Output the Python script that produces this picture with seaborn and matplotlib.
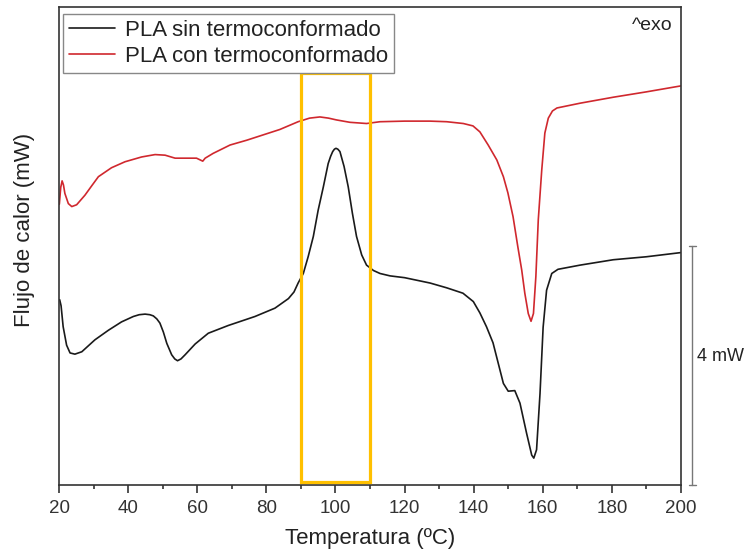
import numpy as np
import pandas as pd
import matplotlib
matplotlib.use("Agg")
import matplotlib.pyplot as plt
from matplotlib.patches import Rectangle
import seaborn as sns

# DSC traces (temperature in ºC, heat flow in mW, offset per sample)
temp_sin = [20.2, 20.6, 21.2, 22.2, 23.2, 24.6, 26.6, 28.5, 30.4, 34.3, 38.1, 41.5,
            43.2, 44.9, 46.3, 47.3, 48.3, 49.2, 50.2, 51.2, 52.6, 53.5, 54.3, 55.3,
            56.5, 59.4, 63.2, 69.0, 76.7, 82.5, 86.4, 88.0, 89.2, 90.7, 92.1, 93.6,
            95.0, 96.5, 97.9, 98.6, 99.2, 99.7, 100.15, 100.7, 101.3, 102.5, 103.7,
            104.9, 106.1, 107.6, 109.0, 111.0, 112.9, 115.8, 120.0, 127.4, 132.2,
            136.9, 139.9, 141.8, 143.7, 145.6, 147.1, 148.6, 150.0, 151.9, 153.4,
            155.3, 156.8, 157.4, 158.2, 159.2, 160.1, 161.1, 162.6, 164.4, 170.8,
            180.4, 190.0, 200.0]
flujo_sin = [3.10, 3.00, 2.65, 2.34, 2.21, 2.19, 2.23, 2.33, 2.43, 2.59, 2.73, 2.82,
             2.85, 2.86, 2.85, 2.83, 2.78, 2.71, 2.56, 2.37, 2.18, 2.11, 2.08, 2.11,
             2.18, 2.36, 2.54, 2.67, 2.82, 2.96, 3.12, 3.23, 3.38, 3.54, 3.82, 4.16,
             4.60, 4.99, 5.38, 5.50, 5.58, 5.62, 5.635, 5.62, 5.58, 5.33, 4.99,
             4.55, 4.16, 3.85, 3.68, 3.59, 3.54, 3.50, 3.47, 3.38, 3.30,
             3.21, 3.07, 2.88, 2.65, 2.38, 2.04, 1.70, 1.57, 1.58, 1.37,
             0.87, 0.50, 0.45, 0.59, 1.53, 2.64, 3.26, 3.54, 3.61, 3.68,
             3.77, 3.82, 3.89]

temp_con = [20.1, 20.5, 20.9, 21.3, 21.7, 22.7, 23.7, 25.1, 27.5, 29.5, 31.4, 35.2,
            39.1, 43.9, 47.8, 50.7, 53.6, 55.0, 59.8, 61.6, 62.3, 64.6, 69.5, 74.3,
            79.1, 83.9, 89.2, 92.5, 95.5, 98.0, 100.3, 104.2, 109.0, 112.9, 120.0,
            127.4, 132.2, 137.0, 139.8, 141.8, 144.2, 146.7, 148.6, 149.9, 151.4,
            152.8, 153.9, 154.8, 155.8, 156.6, 157.3, 158.0, 158.7, 159.7, 160.6,
            161.6, 162.8, 164.1, 170.8, 180.4, 190.0, 200.0]
flujo_con = [4.70, 4.98, 5.09, 5.02, 4.88, 4.71, 4.66, 4.69, 4.85, 5.01, 5.16, 5.31,
             5.41, 5.49, 5.53, 5.52, 5.47, 5.47, 5.47, 5.42, 5.47, 5.55, 5.69, 5.77,
             5.86, 5.95, 6.08, 6.14, 6.16, 6.14, 6.11, 6.07, 6.05, 6.08, 6.09,
             6.09, 6.08, 6.05, 6.01, 5.91, 5.69, 5.44, 5.16, 4.89, 4.49,
             3.98, 3.60, 3.21, 2.87, 2.74, 2.87, 3.49, 4.44, 5.27, 5.89,
             6.14, 6.26, 6.31, 6.39, 6.49, 6.58, 6.68]

series_names = ["PLA sin termoconformado", "PLA con termoconformado"]
series_colors = ["#1a1a1a", "#d0282e"]
x_ticks = [20, 40, 60, 80, 100, 120, 140, 160, 180, 200]
highlight_range = (90, 110)
scale_bar_mw = 4

df = pd.concat([
    pd.DataFrame({"T": temp_sin, "Q": flujo_sin, "muestra": series_names[0]}),
    pd.DataFrame({"T": temp_con, "Q": flujo_con, "muestra": series_names[1]}),
], ignore_index=True)

sns.set_theme(style="ticks")
plt.rcParams["font.family"] = ["Liberation Sans", "DejaVu Sans"]

fig = plt.figure(figsize=(7.5, 5.58), dpi=100)
ax = fig.add_axes([59 / 750, 73 / 558, 622 / 750, 478 / 558])

sns.lineplot(data=df, x="T", y="Q", hue="muestra", palette=series_colors,
             hue_order=series_names, sort=False, estimator=None,
             linewidth=1.2, ax=ax, legend=False)
for line in ax.get_lines():
    line.set_solid_joinstyle("round")

ax.set_xlim(20, 200)
ax.set_ylim(0, 8)
ax.set_xticks(x_ticks)
ax.set_xticks(np.arange(30, 200, 20), minor=True)
ax.set_yticks([])
ax.tick_params(axis="x", which="major", direction="out", length=6, width=1.2,
               color="#333333", labelsize=13.5, labelcolor="#333333", pad=5)
ax.tick_params(axis="x", which="minor", direction="out", length=3, width=1.2,
               color="#333333")
for side in ["left", "right", "top", "bottom"]:
    ax.spines[side].set_visible(True)
    ax.spines[side].set_color("#333333")
    ax.spines[side].set_linewidth(1.2)

ax.set_xlabel("Temperatura (ºC)", fontsize=16, color="#222222", labelpad=8)
ax.set_ylabel("")
fig.text(25 / 750, 1 - 230 / 558, "Flujo de calor (mW)", rotation=90,
         ha="center", va="center", fontsize=16, color="#222222")

# highlighted crystallisation window
ax.add_patch(Rectangle((highlight_range[0], 0.05), highlight_range[1] - highlight_range[0],
                       6.85, fill=False, edgecolor="#ffc000", linewidth=2.3, zorder=3))

# scale bar outside the right spine
xb = 203.3
ax.plot([xb, xb], [0, scale_bar_mw], color="#777777", lw=1.0, clip_on=False)
ax.plot([xb - 0.9, xb + 0.9], [0, 0], color="#777777", lw=1.0, clip_on=False)
ax.plot([xb - 0.9, xb + 0.9], [scale_bar_mw, scale_bar_mw], color="#777777", lw=1.0,
        clip_on=False)
ax.text(xb + 1.3, 2.15, f"{scale_bar_mw} mW", fontsize=13, color="#222222",
        ha="left", va="center", clip_on=False)

ax.text(0.986, 0.962, "^exo", transform=ax.transAxes, ha="right", va="center",
        fontsize=14, color="#222222")

handles = [plt.Line2D([], [], color=c, lw=1.2) for c in series_colors]
leg = ax.legend(handles, series_names, loc="upper left",
                bbox_to_anchor=(4 / 622, 1 - 7 / 478), borderaxespad=0,
                fontsize=16, frameon=True, fancybox=False, framealpha=1,
                edgecolor="#888888", handlelength=2.1, handletextpad=0.45,
                labelspacing=0.25, borderpad=0.25)
leg.get_frame().set_linewidth(1.0)
for t in leg.get_texts():
    t.set_color("#222222")

fig.savefig("out.png", dpi=100)
